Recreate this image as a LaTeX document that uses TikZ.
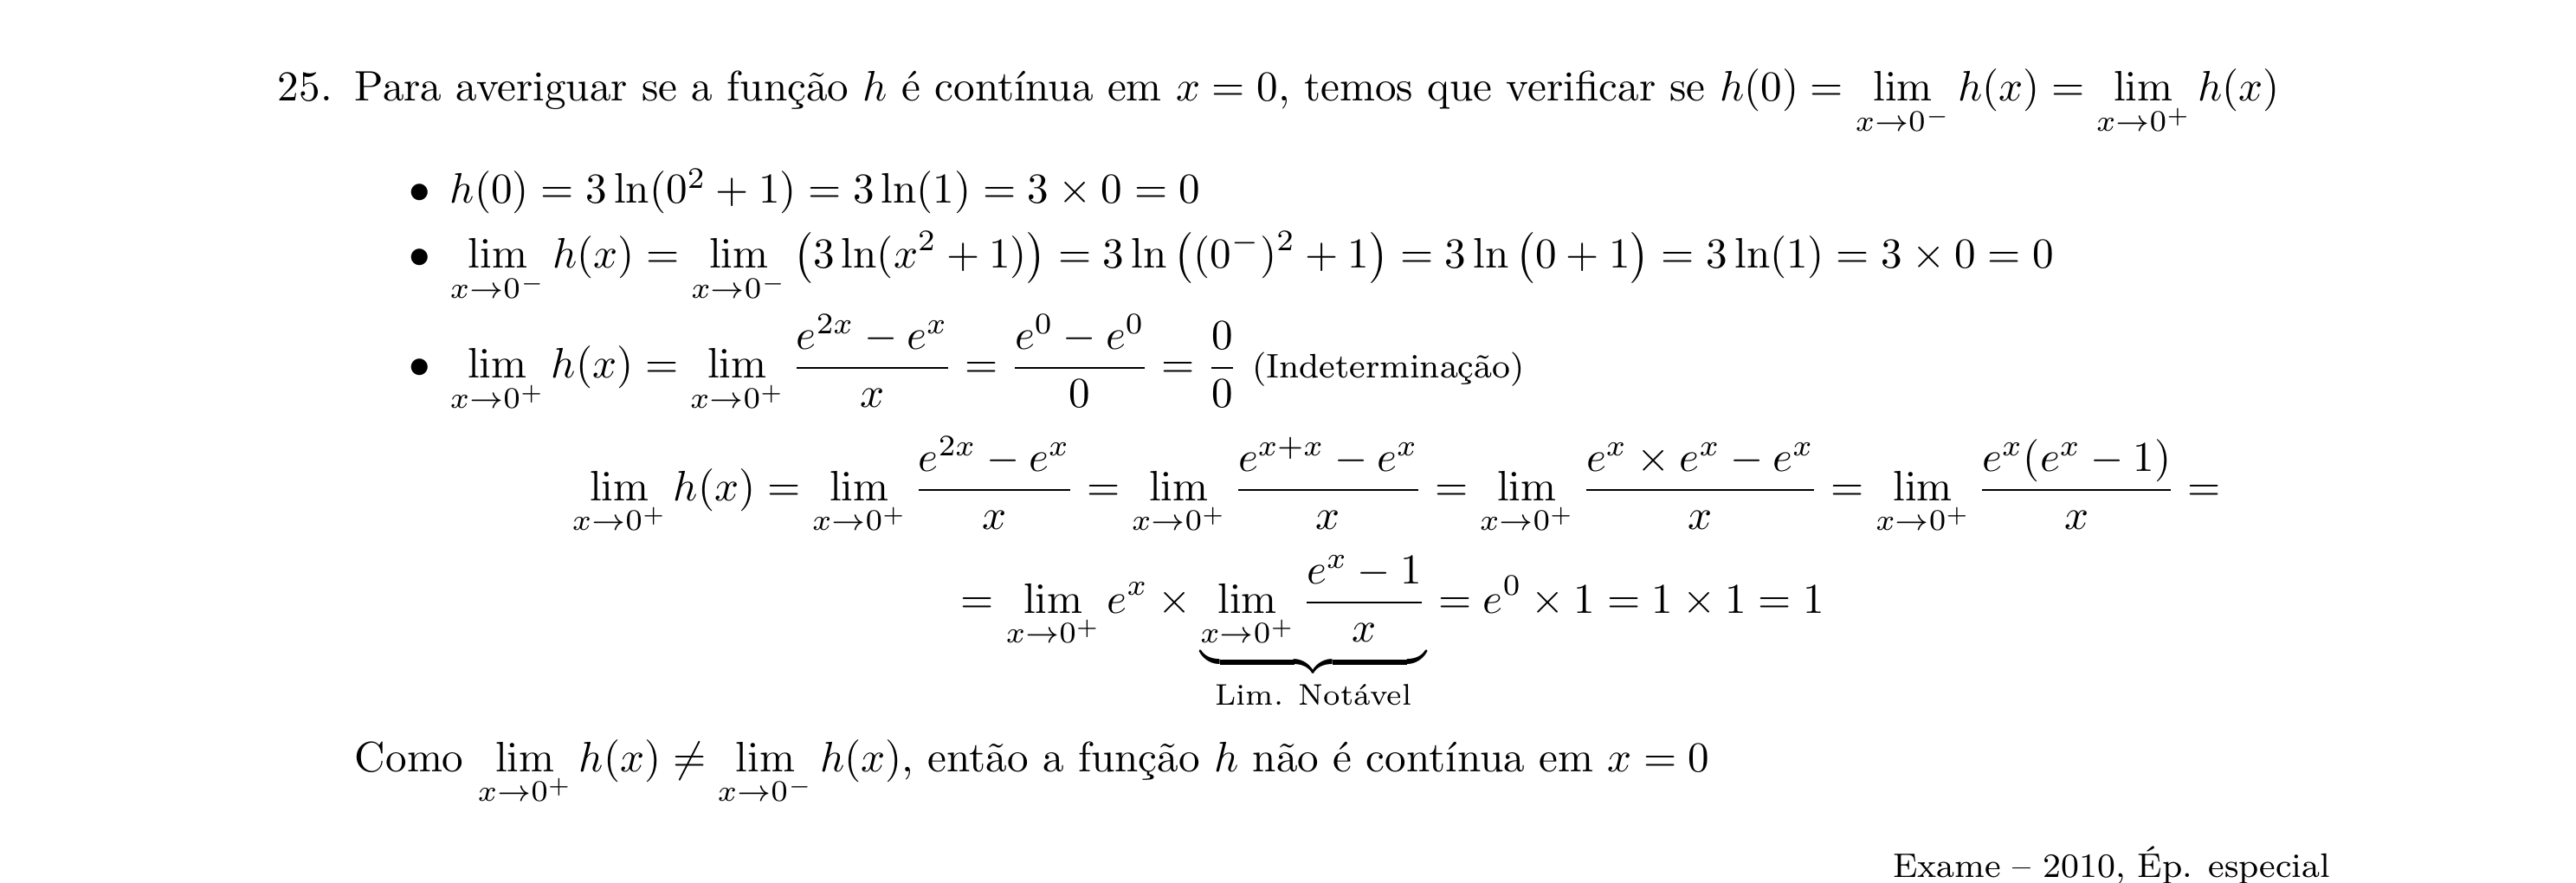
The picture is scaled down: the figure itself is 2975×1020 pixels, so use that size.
\documentclass[tikz,border=0pt]{standalone}
\usepackage{amsmath,amssymb}
\usepackage{tikz}

\begin{document}
\begin{tikzpicture}[x=0.2035pt, y=-0.2035pt,
      every node/.style={inner sep=0pt, anchor=base west},
      right text/.style={anchor=base east, font=\footnotesize}]
    \useasboundingbox (0,0) rectangle (2975,1020);
    % heading
    \node (num) at (320,117) {25.};
    \node (intro) at (409,117) {Para averiguar se a função $h$ é contínua em $x=0$, temos que verificar se
      $\displaystyle h(0)=\lim_{x\to 0^-}h(x)=\lim_{x\to 0^+}h(x)$};
    % bullets
    \foreach \y [count=\i] in {235,310,437}
      \node (bul\i) at (472,\y) {$\bullet$};
    \node (itemA) at (519,235) {$h(0)=3\ln(0^2+1)=3\ln(1)=3\times 0=0$};
    \node (itemB) at (519,310) {$\displaystyle \lim_{x\to 0^-}h(x)=\lim_{x\to 0^-}\,\bigl(3\ln(x^2+1)\bigr)
      =3\ln\,\bigl((0^-)^2+1\bigr)=3\ln\,\bigl(0+1\bigr)=3\ln(1)=3\times 0=0$};
    \node (itemC) at (519,437) {$\displaystyle \lim_{x\to 0^+}h(x)=\lim_{x\to 0^+}\frac{e^{2x}-e^x}{x}
      =\frac{e^0-e^0}{0}=\frac{0}{0}$\ {\footnotesize (Indeterminação)}};
    % calculation
    \node (calcA) at (660,578) {$\displaystyle \lim_{x\to 0^+}h(x)=\lim_{x\to 0^+}\frac{e^{2x}-e^x}{x}
      =\lim_{x\to 0^+}\frac{e^{x+x}-e^x}{x}=\lim_{x\to 0^+}\frac{e^x\times e^x-e^x}{x}
      =\lim_{x\to 0^+}\frac{e^x(e^x-1)}{x}=$};
    \node (calcB) at (1109,708) {$\displaystyle =\lim_{x\to 0^+}e^x\times
      \underbrace{\lim_{x\to 0^+}\frac{e^x-1}{x}}_{\text{Lim. Notável}}=e^0\times 1=1\times 1=1$};
    % conclusion
    \node (concl) at (409,891) {Como $\displaystyle \lim_{x\to 0^+}h(x)\neq\lim_{x\to 0^-}h(x)$, então a
      função $h$ não é contínua em $x=0$};
    \node[right text] (src) at (2692,1013) {Exame -- 2010, Ép. especial};
\end{tikzpicture}
\end{document}
